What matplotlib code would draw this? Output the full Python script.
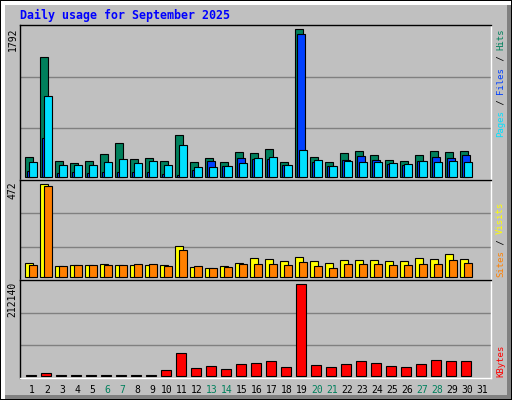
import numpy as np
import matplotlib
matplotlib.use('Agg')
import matplotlib.pyplot as plt
from matplotlib.patches import Rectangle

# ---- data ----
days = list(range(1, 32))
hits = [239, 1452, 190, 166, 190, 275, 409, 215, 227, 190, 506, 178, 227, 178, 300, 287,
        336, 178, 1792, 239, 178, 287, 312, 263, 203, 190, 263, 312, 300, 312, 0]
files = [73, 473, 49, 61, 49, 61, 61, 61, 61, 36, 24, 85, 190, 130, 227, 215,
         215, 142, 1731, 178, 130, 203, 251, 203, 154, 142, 190, 239, 227, 263, 0]
pages = [178, 979, 142, 142, 142, 178, 215, 166, 190, 142, 384, 118, 118, 130, 166, 227,
         239, 142, 324, 203, 130, 190, 178, 178, 166, 154, 190, 178, 190, 178, 0]
visits = [68, 472, 53, 58, 58, 63, 58, 58, 58, 58, 155, 48, 43, 53, 68, 94,
          89, 78, 99, 78, 68, 84, 84, 84, 78, 78, 94, 89, 114, 89, 0]
sites = [58, 464, 53, 58, 58, 58, 58, 63, 63, 53, 135, 53, 43, 48, 63, 63,
         63, 58, 73, 53, 43, 63, 63, 63, 58, 58, 63, 63, 84, 68, 0]
kbytes = [900, 5500, 900, 900, 900, 900, 900, 900, 900, 12400, 51900, 17000, 21700, 14700, 26300, 28700,
          33300, 19400, 212140, 24000, 19400, 26300, 33300, 28700, 21700, 19400, 26300, 35600, 33300, 33300, 0]
weekends = [6, 7, 13, 14, 20, 21, 27, 28]
title = "Daily usage for September 2025"

# ---- colours ----
C_HITS, C_FILES, C_PAGES = '#00805c', '#0040ff', '#00e0ff'
C_VISITS, C_SITES, C_KB = '#ffff00', '#ff8000', '#ff0000'
GREY, DKGREY = '#c0c0c0', '#808080'
MONO = 'DejaVu Sans Mono'

W, H = 512, 400
fig = plt.figure(figsize=(W / 100, H / 100), dpi=100, facecolor=GREY)

def frac(x, y, w, h):
    # top-left pixel coords -> figure fraction rect
    return [x / W, (H - y - h) / H, w / W, h / H]

# bevel frame
def rect(x, y, w, h, c):
    fig.patches.append(Rectangle(frac(x, y, w, h)[:2], w / W, h / H, transform=fig.transFigure,
                                 facecolor=c, edgecolor='none', zorder=-5))
rect(0, 0, W, H, 'black')
rect(1, 1, W - 2, H - 2, GREY)
rect(1, 1, W - 2, 4, 'white')
rect(1, 1, 4, H - 2, 'white')
rect(W - 5, 5, 4, H - 6, DKGREY)
rect(5, H - 5, W - 6, 4, DKGREY)

x = np.array(days, dtype=float)
XL = (0.2, 0.2 + 471 / 15)
BW = 7.4 / 15

def edges(vals):
    return ['black' if v > 0 else 'none' for v in vals]

def setup(ax, vmax, h, base_px, top_px):
    k = vmax / (h - base_px - top_px)
    lo, hi = -base_px * k, vmax + top_px * k
    ax.set_xlim(*XL)
    ax.set_ylim(lo, hi)
    ax.set_facecolor(GREY)
    ax.set_yticks([lo + (hi - lo) / 3, lo + 2 * (hi - lo) / 3])
    ax.yaxis.grid(True, color=DKGREY, lw=1.0)
    ax.set_axisbelow(True)
    ax.tick_params(length=0, labelleft=False, labelbottom=False)
    for s in ['top', 'left']:
        ax.spines[s].set_color('black')
    for s in ['bottom', 'right']:
        ax.spines[s].set_color('white')
    for s in ax.spines.values():
        s.set_linewidth(1.0)
    ax.text(-0.005, 0.985, str(vmax), rotation=90, ha='right', va='top',
            transform=ax.transAxes, fontsize=7, family=MONO, color='black')

# top panel
ax1 = fig.add_axes(frac(20, 25, 471, 155))
setup(ax1, max(hits), 155, 3, 4.3)
ax1.bar(x - 6.7 / 15, hits, width=BW, align='edge', color=C_HITS, edgecolor=edges(hits), lw=0.8)
ax1.bar(x - 4.7 / 15, files, width=BW, align='edge', color=C_FILES, edgecolor=edges(files), lw=0.8)
ax1.bar(x - 2.7 / 15, pages, width=BW, align='edge', color=C_PAGES, edgecolor=edges(pages), lw=0.8)

# middle panel
ax2 = fig.add_axes(frac(20, 180, 471, 100))
setup(ax2, max(visits), 100, 3.3, 4.3)
ax2.bar(x - 6.7 / 15, visits, width=BW, align='edge', color=C_VISITS, edgecolor=edges(visits), lw=0.8)
ax2.bar(x - 2.7 / 15, sites, width=BW, align='edge', color=C_SITES, edgecolor=edges(sites), lw=0.8)

# bottom panel
ax3 = fig.add_axes(frac(20, 280, 471, 98))
setup(ax3, max(kbytes), 98, 2.3, 4.3)
ax3.bar(x - 6 / 15, kbytes, width=10.4 / 15, align='edge', color=C_KB, edgecolor=edges(kbytes), lw=0.8)
ax3.set_xticks(x)
ax3.set_xticklabels([str(d) for d in days], family=MONO, fontsize=7)
ax3.tick_params(axis='x', labelbottom=True, pad=5)
for lbl, d in zip(ax3.get_xticklabels(), days):
    lbl.set_color(C_HITS if d in weekends else 'black')

# title
fig.text(19.5 / W, 1 - 15 / H, title, family=MONO, fontweight='bold', fontsize=8.4,
         color='#0000ff', ha='left', va='center')

# right-side legends (rotated, multi-coloured)
CH = 6.5 * 100 / 72 * 0.602
def vlabel(parts, bottom_px, xc=500.5):
    y = bottom_px
    for txt, c in parts:
        fig.text(xc / W, 1 - y / H, txt, rotation=90, ha='center', va='bottom',
                 family=MONO, fontsize=6.5, color=c)
        y -= CH * len(txt)

vlabel([('Pages', C_PAGES), (' / ', 'black'), ('Files', C_FILES), (' / ', 'black'), ('Hits', C_HITS)], 137)
vlabel([('Sites', C_SITES), (' / ', 'black'), ('Visits', C_VISITS)], 277)
vlabel([('KBytes', C_KB)], 377)

fig.savefig('out.png', dpi=100, facecolor=GREY)
